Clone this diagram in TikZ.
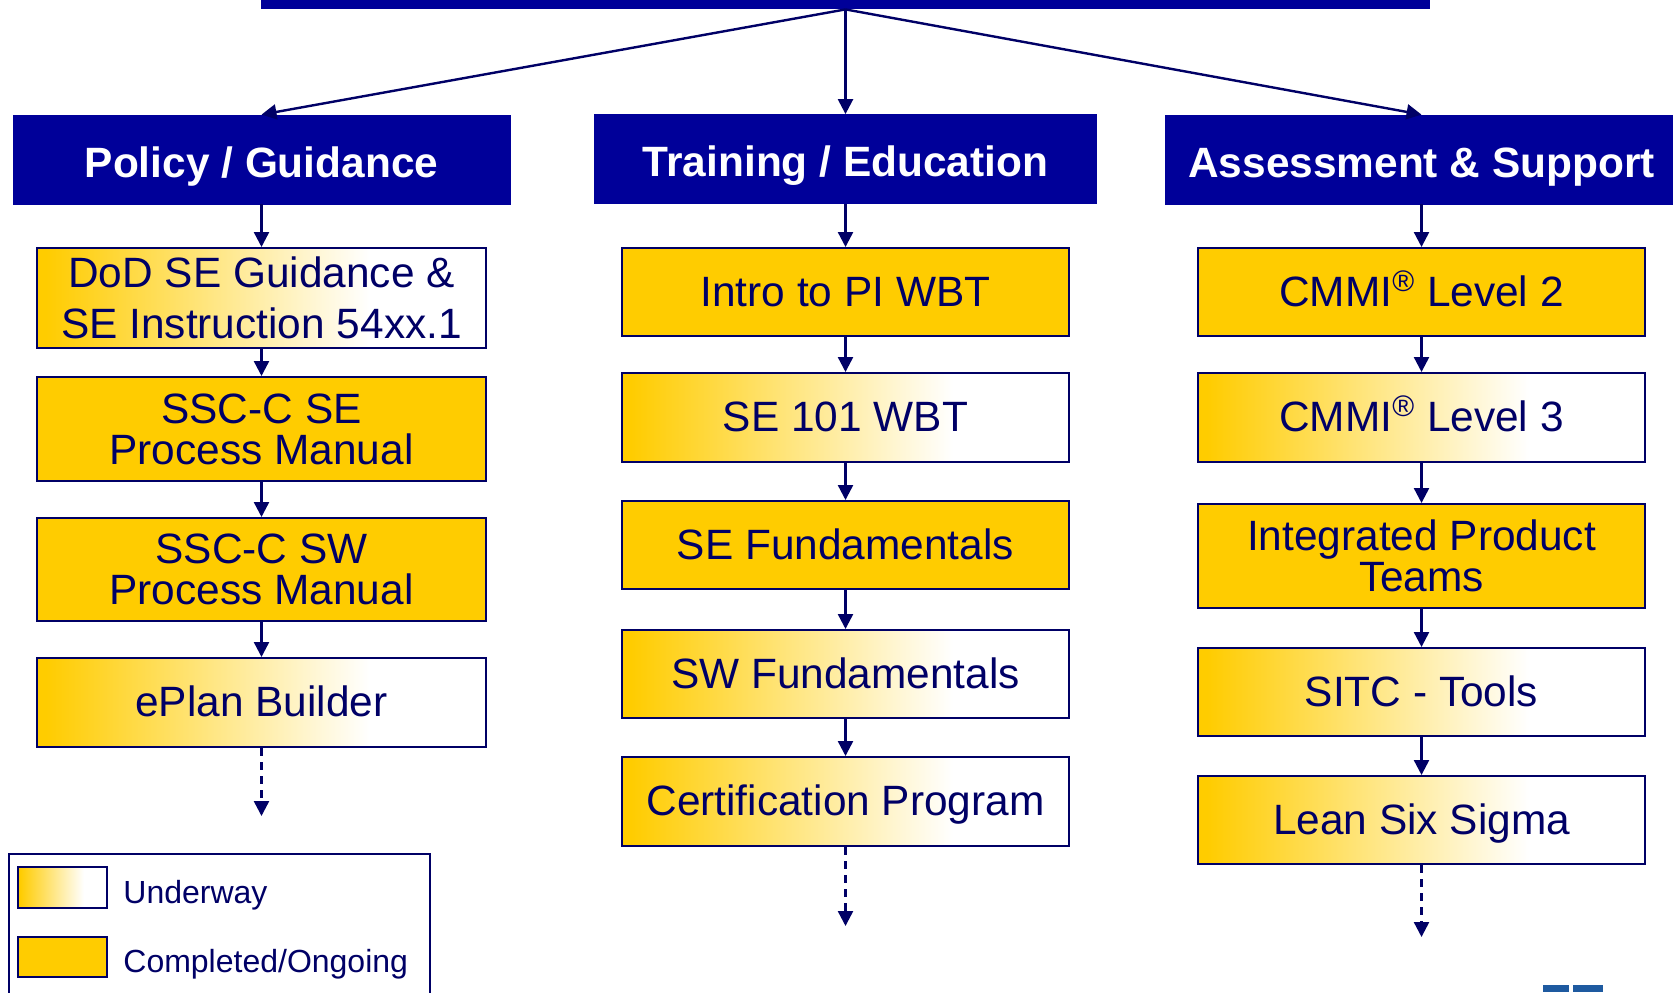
\documentclass[tikz,border=0pt]{standalone}
\usepackage{fontspec}
\setmainfont{Liberation Sans}
\usetikzlibrary{arrows.meta}
\definecolor{hdrblue}{HTML}{000099}
\definecolor{navy}{HTML}{000066}
\definecolor{gold}{HTML}{FFCC00}
\definecolor{logoblue}{HTML}{1E5AA0}
\pgfdeclarehorizontalshading{underwayshade}{100bp}{color(0bp)=(gold); color(26bp)=(gold); color(62bp)=(white); color(100bp)=(white)}
\tikzset{
  hdr/.style={fill=hdrblue, draw=hdrblue, text=white, inner sep=0pt,
    font=\bfseries\fontsize{21.2}{24}\selectfont, minimum height=44.5pt,
    text height=17.6pt, text depth=0pt},
  box/.style={draw=navy, line width=1pt, text=navy, inner sep=0pt, align=center,
    font=\fontsize{21.2}{20.6}\selectfont, minimum height=44pt},
  one/.style={text height=14.2pt, text depth=0pt},
  colL/.style={box, minimum width=224.5pt},
  colM/.style={box, minimum width=223.5pt},
  colR/.style={box, minimum width=223.5pt},
  done/.style={fill=gold},
  underway/.style={shading=underwayshade},
  conn/.style={draw=navy, line width=1.2pt, -{Triangle[length=7.5pt,width=7.5pt]}},
  dconn/.style={conn, dash pattern=on 4pt off 3pt},
  legtext/.style={text=navy, anchor=west, inner sep=0pt, font=\fontsize{16}{19}\selectfont}
}
\begin{document}
\begin{tikzpicture}[x=0.5pt, y=-0.5pt]
\useasboundingbox (0,0) rectangle (1673,992);
\fill[white] (0,0) rectangle (1673,992);

% top bar
\node[fill=hdrblue, inner sep=0pt, minimum width=584.5pt, minimum height=4.5pt] (top) at (845.5,4.5) {};

% headers
\node[hdr, minimum width=248.5pt] (pg) at (261.5,159.5) {Policy / Guidance};
\node[hdr, minimum width=251pt] (te) at (845.5,159) {Training / Education};
\node[hdr, minimum width=256.5pt] (as) at (1421.5,159.5) {Assessment \& Support};

\draw[conn] (top.south) -- (pg.north);
\draw[conn] (top.south) -- (te.north);
\draw[conn] (top.south) -- (as.north);

% left column
\node[colL, underway, minimum height=50pt, font=\fontsize{21.2}{25.5}\selectfont] (l1) at (261.5,298) {DoD SE Guidance \&\\SE Instruction 54xx.1};
\node[colL, done, minimum height=52pt] (l2) at (261.5,429) {SSC-C SE\\Process Manual};
\node[colL, done, minimum height=51.5pt] (l3) at (261.5,569.5) {SSC-C SW\\Process Manual};
\node[colL, underway, one, minimum height=44.5pt] (l4) at (261.5,702.5) {ePlan Builder};
\coordinate (lend) at (261.5,816);
\draw[conn] (pg.south) -- (l1.north);
\draw[conn] (l1.south) -- (l2.north);
\draw[conn] (l2.south) -- (l3.north);
\draw[conn] (l3.south) -- (l4.north);
\draw[dconn] (l4.south) -- (lend);

% middle column
\node[colM, done, one] (m1) at (845.5,292) {Intro to PI WBT};
\node[colM, underway, one, minimum height=44.5pt] (m2) at (845.5,417.5) {SE 101 WBT};
\node[colM, done, one] (m3) at (845.5,545) {SE Fundamentals};
\node[colM, underway, one] (m4) at (845.5,674) {SW Fundamentals};
\node[colM, underway, one, minimum height=44.5pt] (m5) at (845.5,801.5) {Certification Program};
\coordinate (mend) at (845.5,926);
\draw[conn] (te.south) -- (m1.north);
\draw[conn] (m1.south) -- (m2.north);
\draw[conn] (m2.south) -- (m3.north);
\draw[conn] (m3.south) -- (m4.north);
\draw[conn] (m4.south) -- (m5.north);
\draw[dconn] (m5.south) -- (mend);

% right column
\node[colR, done, one] (r1) at (1421.5,292) {CMMI\textsuperscript{®} Level 2};
\node[colR, underway, one, minimum height=44.5pt] (r2) at (1421.5,417.5) {CMMI\textsuperscript{®} Level 3};
\node[colR, done, minimum height=52pt] (r3) at (1421.5,556) {Integrated Product\\Teams};
\node[colR, underway, one] (r4) at (1421.5,692) {SITC - Tools};
\node[colR, underway, one] (r5) at (1421.5,820) {Lean Six Sigma};
\coordinate (rend) at (1421.5,937);
\draw[conn] (as.south) -- (r1.north);
\draw[conn] (r1.south) -- (r2.north);
\draw[conn] (r2.south) -- (r3.north);
\draw[conn] (r3.south) -- (r4.north);
\draw[conn] (r4.south) -- (r5.north);
\draw[dconn] (r5.south) -- (rend);

% legend
\draw[navy, line width=1pt] (9,1010) -- (9,854) -- (430,854) -- (430,1010);
\node[draw=navy, line width=1pt, shading=underwayshade, inner sep=0pt, minimum width=44.5pt, minimum height=20.5pt] (sw1) at (62.5,887.5) {};
\node[draw=navy, line width=1pt, fill=gold, inner sep=0pt, minimum width=44.5pt, minimum height=20pt] (sw2) at (62.5,957) {};
\node[legtext] (t1) at (123,895) {Underway};
\node[legtext] (t2) at (123,964) {Completed/Ongoing};

% logo fragment
\fill[logoblue] (1543,985) rectangle (1569,992);
\fill[logoblue] (1573,985) rectangle (1603,992);
\end{tikzpicture}
\end{document}
